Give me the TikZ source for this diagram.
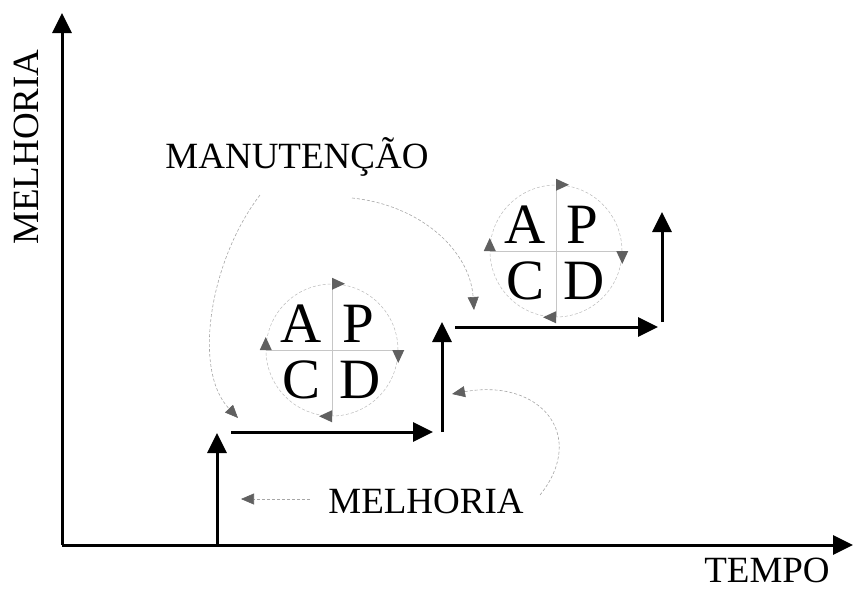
\documentclass[tikz,border=0pt]{standalone}
\usepackage{fontspec}
\setmainfont{Liberation Serif}
\usetikzlibrary{arrows.meta,calc}
\tikzset{
  blk/.style={line width=3pt,-{Triangle[length=20pt,width=19pt]}},
  gry/.style={gray!70,line width=0.6pt,densely dashed,-{Triangle[length=13pt,width=11pt,color=gray!75!black]}},
  lbl/.style={font=\fontsize{37}{40}\selectfont,inner sep=0pt,anchor=base},
  big/.style={font=\fontsize{57}{60}\selectfont,inner sep=0pt,anchor=base},
  tri/.style={fill=gray!75!black,draw=none}
}
\newcommand{\pdcacycle}[3]{%
  \node[circle,draw=gray!55,line width=0.5pt,densely dashed,minimum size=132pt,inner sep=0pt] (#1) at (#2,#3) {};
  \draw[gray!45,line width=0.6pt] (#1.north) -- (#1.south);
  \draw[gray!45,line width=0.6pt] (#1.west) -- (#1.east);
  \fill[tri] ($(#1.north)+(0,-6)$) -- ($(#1.north)+(0,6)$) -- ($(#1.north)+(13,0)$) -- cycle;
  \fill[tri] ($(#1.east)+(-6,0)$) -- ($(#1.east)+(6,0)$) -- ($(#1.east)+(0,13)$) -- cycle;
  \fill[tri] ($(#1.south)+(0,-6)$) -- ($(#1.south)+(0,6)$) -- ($(#1.south)+(-13,0)$) -- cycle;
  \fill[tri] ($(#1.west)+(-6,0)$) -- ($(#1.west)+(6,0)$) -- ($(#1.west)+(0,-13)$) -- cycle;
  \node[big] (#1A) at ($(#1)+(-31,-8)$) {A};
  \node[big] (#1P) at ($(#1)+(26,-8)$) {P};
  \node[big] (#1C) at ($(#1)+(-30,48)$) {C};
  \node[big] (#1D) at ($(#1)+(28,48)$) {D};
}
\begin{document}
\begin{tikzpicture}[x=1pt,y=-1pt]
\useasboundingbox (0,0) rectangle (853,590);
% axes
\coordinate (O) at (62,545);
\coordinate (Ytop) at (62,13);
\coordinate (Xend) at (853,545);
\draw[blk] (O) -- (Ytop);
\draw[blk] (O) -- (Xend);
\node[lbl,rotate=90] (ylab) at (38,147) {MELHORIA};
\node[lbl] (xlab) at (767,582) {TEMPO};
% steps
\coordinate (s1a) at (217,545); \coordinate (s1b) at (217,433);
\coordinate (h1a) at (231,432); \coordinate (h1b) at (433,432);
\coordinate (s2a) at (442,432); \coordinate (s2b) at (442,322);
\coordinate (h2a) at (455,327); \coordinate (h2b) at (658,327);
\coordinate (s3a) at (662,322); \coordinate (s3b) at (662,212);
\draw[blk] (s1a) -- (s1b);
\draw[blk] (h1a) -- (h1b);
\draw[blk] (s2a) -- (s2b);
\draw[blk] (h2a) -- (h2b);
\draw[blk] (s3a) -- (s3b);
% PDCA cycles
\pdcacycle{c1}{332}{350}
\pdcacycle{c2}{556}{251}
% labels
\node[lbl] (man) at (297,168) {MANUTENÇÃO};
\node[lbl] (mel) at (426,513) {MELHORIA};
% gray connectors
\coordinate (m1) at (260,195);
\coordinate (m1t) at (238,418);
\coordinate (m2) at (352,198);
\coordinate (m2t) at (474,310);
\coordinate (e1) at (540,495);
\coordinate (e1t) at (452,394);
\coordinate (e2) at (310,499);
\coordinate (e2t) at (241,499);
\draw[gry] (m1) .. controls (210,260) and (192,370) .. (m1t);
\draw[gry] (m2) .. controls (420,205) and (470,250) .. (m2t);
\draw[gry] (e1) .. controls (588,435) and (540,378) .. (e1t);
\draw[gry] (e2) -- (e2t);
\end{tikzpicture}
\end{document}
